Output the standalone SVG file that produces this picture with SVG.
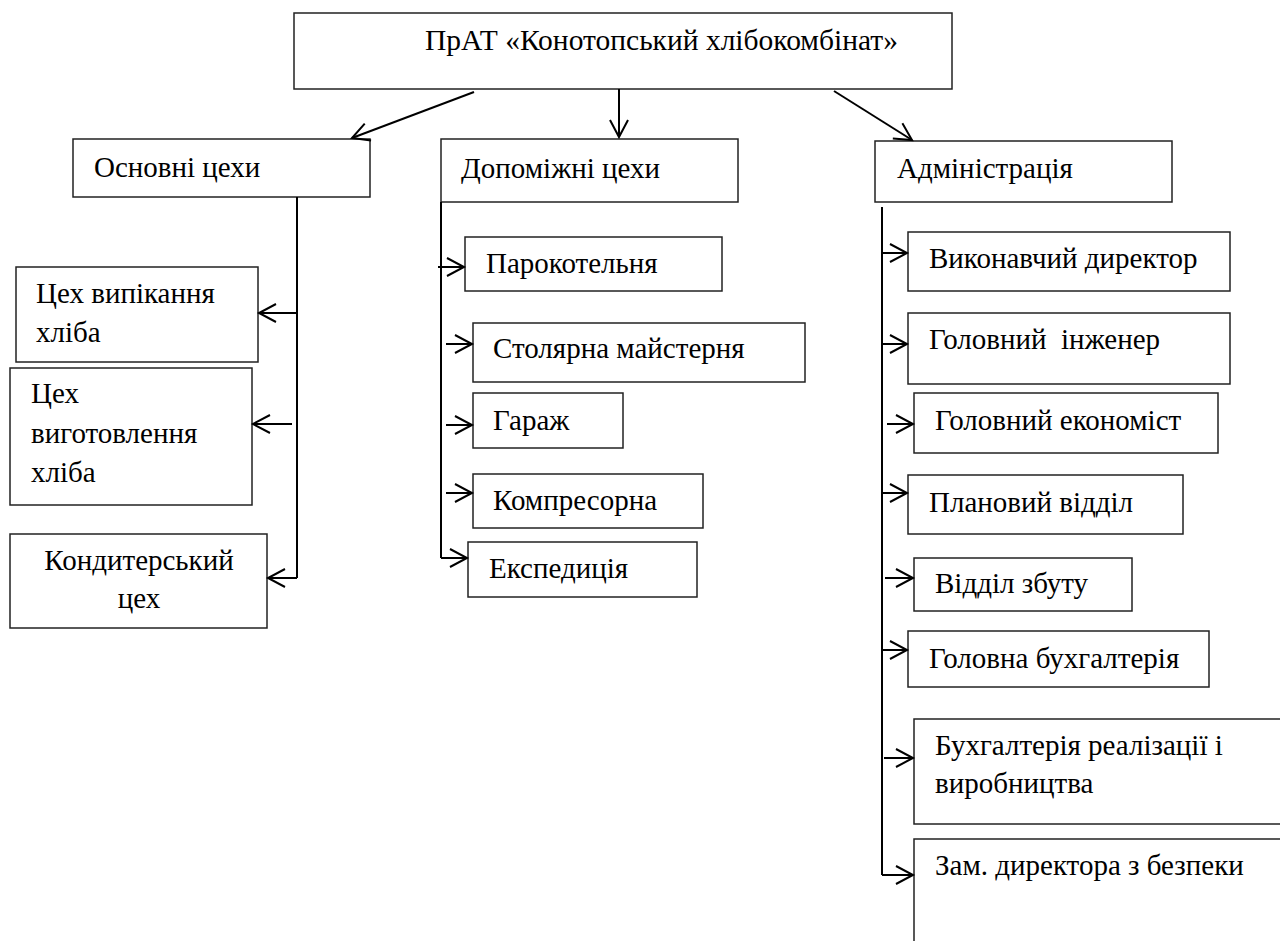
<svg xmlns="http://www.w3.org/2000/svg" width="1280" height="941" viewBox="0 0 1280 941">
<style>
.box{fill:#fff;stroke:#222;stroke-width:1.5}
text{font-family:'Liberation Serif','DejaVu Serif',serif;font-size:29px;fill:#000}
.c{stroke:#000;stroke-width:2;fill:none}
</style>
<defs>
<marker id="ah" markerUnits="userSpaceOnUse" markerWidth="20" markerHeight="22" refX="17" refY="10" orient="auto" overflow="visible">
<path d="M0,1 L17,10 L0,19" fill="none" stroke="#000" stroke-width="2"/>
</marker>
</defs>
<rect width="1280" height="941" fill="#fff"/>

<g id="n-top"><rect class="box" x="294" y="13" width="658" height="76"/><text x="425" y="50" style="font-size:29.5px">ПрАТ «Конотопський хлібокомбінат»</text></g>
<g id="n-osn"><rect class="box" x="73" y="139" width="297" height="58"/><text x="94" y="177">Основні цехи</text></g>
<g id="n-dop"><rect class="box" x="441" y="139" width="297" height="63"/><text x="461" y="178">Допоміжні цехи</text></g>
<g id="n-adm"><rect class="box" x="875" y="141" width="297" height="61"/><text x="897" y="178">Адміністрація</text></g>

<g id="n-vyp"><rect class="box" x="16" y="267" width="242" height="95"/><text x="36" y="303">Цех випікання</text><text x="36" y="342">хліба</text></g>
<g id="n-vyg"><rect class="box" x="10" y="368" width="242" height="137"/><text x="31" y="403">Цех</text><text x="31" y="443">виготовлення</text><text x="31" y="482">хліба</text></g>
<g id="n-kond"><rect class="box" x="10" y="534" width="257" height="94"/><text x="139" y="570" text-anchor="middle">Кондитерський</text><text x="139" y="608" text-anchor="middle">цех</text></g>

<g id="n-par"><rect class="box" x="465" y="237" width="257" height="54"/><text x="486" y="273">Парокотельня</text></g>
<g id="n-stol"><rect class="box" x="473" y="323" width="332" height="59"/><text x="493" y="358">Столярна майстерня</text></g>
<g id="n-gar"><rect class="box" x="473" y="393" width="150" height="55"/><text x="493" y="430">Гараж</text></g>
<g id="n-komp"><rect class="box" x="473" y="474" width="230" height="54"/><text x="493" y="510">Компресорна</text></g>
<g id="n-eksp"><rect class="box" x="468" y="542" width="229" height="55"/><text x="489" y="578">Експедиція</text></g>

<g id="n-vyk"><rect class="box" x="908" y="232" width="322" height="59"/><text x="929" y="268">Виконавчий директор</text></g>
<g id="n-ing"><rect class="box" x="908" y="313" width="322" height="71"/><text x="929" y="349" xml:space="preserve">Головний  інженер</text></g>
<g id="n-ekon"><rect class="box" x="914" y="393" width="304" height="60"/><text x="935" y="430">Головний економіст</text></g>
<g id="n-plan"><rect class="box" x="908" y="475" width="275" height="59"/><text x="929" y="512">Плановий відділ</text></g>
<g id="n-zbut"><rect class="box" x="914" y="558" width="218" height="53"/><text x="935" y="593">Відділ збуту</text></g>
<g id="n-buh"><rect class="box" x="908" y="631" width="301" height="56"/><text x="929" y="668">Головна бухгалтерія</text></g>
<g id="n-real"><rect class="box" x="914" y="719" width="380" height="105"/><text x="935" y="755">Бухгалтерія реалізації і</text><text x="935" y="793">виробництва</text></g>
<g id="n-bez"><rect class="box" x="914" y="839" width="380" height="120"/><text x="935" y="875">Зам. директора з безпеки</text></g>

<g id="connectors" class="c">
<line x1="474" y1="92" x2="352" y2="138" marker-end="url(#ah)"/>
<line x1="619" y1="89" x2="619" y2="137" marker-end="url(#ah)"/>
<line x1="834" y1="91" x2="912" y2="140" marker-end="url(#ah)"/>

<polyline points="297,197 297,578"/>
<line x1="297" y1="313" x2="259" y2="313" marker-end="url(#ah)"/>
<line x1="292" y1="424" x2="253" y2="424" marker-end="url(#ah)"/>
<line x1="297" y1="578" x2="268" y2="578" marker-end="url(#ah)"/>

<polyline points="441,202 441,558"/>
<line x1="438" y1="267" x2="464" y2="267" marker-end="url(#ah)"/>
<line x1="446" y1="344" x2="472" y2="344" marker-end="url(#ah)"/>
<line x1="446" y1="425" x2="472" y2="425" marker-end="url(#ah)"/>
<line x1="446" y1="493" x2="472" y2="493" marker-end="url(#ah)"/>
<line x1="441" y1="558" x2="467" y2="558" marker-end="url(#ah)"/>

<polyline points="882,207 882,875"/>
<line x1="882" y1="253" x2="907" y2="253" marker-end="url(#ah)"/>
<line x1="883" y1="344" x2="907" y2="344" marker-end="url(#ah)"/>
<line x1="887" y1="424" x2="913" y2="424" marker-end="url(#ah)"/>
<line x1="882" y1="493" x2="907" y2="493" marker-end="url(#ah)"/>
<line x1="885" y1="578" x2="913" y2="578" marker-end="url(#ah)"/>
<line x1="882" y1="650" x2="907" y2="650" marker-end="url(#ah)"/>
<line x1="884" y1="758" x2="913" y2="758" marker-end="url(#ah)"/>
<line x1="882" y1="875" x2="913" y2="875" marker-end="url(#ah)"/>
</g>
</svg>
